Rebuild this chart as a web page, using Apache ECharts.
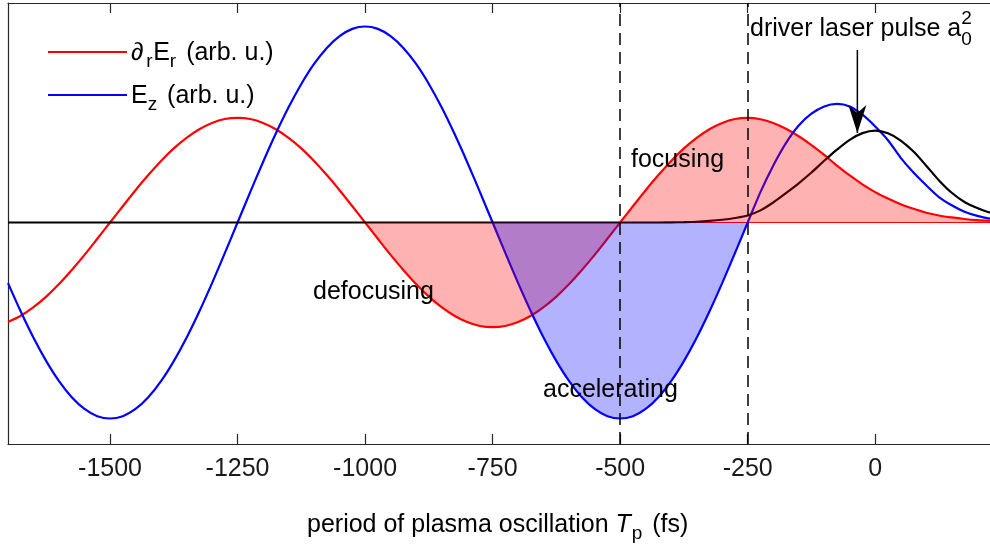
<!DOCTYPE html>
<html>
<head>
<meta charset="utf-8">
<title>Plasma wakefield phases</title>
<script src="https://cdn.jsdelivr.net/npm/echarts@6/dist/echarts.min.js"></script>
<style>
  html, body { margin: 0; padding: 0; background: #ffffff; }
  #chart { width: 990px; height: 551px; }
</style>
</head>
<body>
<div id="chart"></div>
<script>
// ---- data ---------------------------------------------------------------
// sample times along the co-moving coordinate (fs)
const timeFs = [
  -1700, -1675, -1650, -1625, -1600, -1575, -1550, -1525, -1500, -1475,
  -1450, -1425, -1400, -1375, -1350, -1325, -1300, -1275, -1250, -1225,
  -1200, -1175, -1150, -1125, -1100, -1075, -1050, -1025, -1000, -975,
  -950, -925, -900, -875, -850, -825, -800, -775, -750, -725,
  -700, -675, -650, -625, -600, -575, -550, -525, -500, -475,
  -450, -425, -400, -375, -350, -325, -300, -275, -250, -225,
  -200, -175, -150, -125, -100, -75, -50, -25, 0, 25,
  50, 75, 100, 125, 150, 175, 200, 225
];

// transverse focusing field gradient (arb. u.)
const drEr = [
  -0.508, -0.476, -0.432, -0.378, -0.314, -0.242, -0.165, -0.083, 0.000, 0.083,
  0.165, 0.242, 0.314, 0.378, 0.432, 0.476, 0.508, 0.528, 0.534, 0.528,
  0.508, 0.476, 0.432, 0.378, 0.314, 0.242, 0.165, 0.083, 0.000, -0.083,
  -0.165, -0.242, -0.314, -0.378, -0.432, -0.476, -0.508, -0.528, -0.534, -0.528,
  -0.508, -0.476, -0.432, -0.378, -0.314, -0.242, -0.165, -0.083, 0.000, 0.083,
  0.165, 0.242, 0.314, 0.378, 0.432, 0.476, 0.508, 0.528, 0.534, 0.527,
  0.508, 0.478, 0.440, 0.395, 0.345, 0.290, 0.240, 0.195, 0.155, 0.122,
  0.093, 0.070, 0.050, 0.036, 0.026, 0.018, 0.012, 0.008
];

// longitudinal (accelerating) field (arb. u.)
const Ez = [
  -0.309, -0.454, -0.588, -0.707, -0.809, -0.891, -0.951, -0.988, -1.000, -0.988,
  -0.951, -0.891, -0.809, -0.707, -0.588, -0.454, -0.309, -0.156, 0.000, 0.156,
  0.309, 0.454, 0.588, 0.707, 0.809, 0.891, 0.951, 0.988, 1.000, 0.988,
  0.951, 0.891, 0.809, 0.707, 0.588, 0.454, 0.309, 0.156, 0.000, -0.156,
  -0.309, -0.454, -0.588, -0.707, -0.809, -0.891, -0.951, -0.988, -1.000, -0.988,
  -0.951, -0.891, -0.809, -0.707, -0.588, -0.454, -0.309, -0.156, 0.000, 0.155,
  0.290, 0.405, 0.495, 0.555, 0.592, 0.605, 0.592, 0.550, 0.490, 0.420,
  0.330, 0.255, 0.190, 0.130, 0.088, 0.055, 0.034, 0.020
];

// driver laser intensity envelope a0^2 (arb. u.)
const a0sq = [
  0, 0, 0, 0, 0, 0, 0, 0, 0, 0,
  0, 0, 0, 0, 0, 0, 0, 0, 0, 0,
  0, 0, 0, 0, 0, 0, 0, 0, 0, 0,
  0, 0, 0, 0, 0, 0, 0, 0, 0, 0,
  0, 0, 0, 0, 0, 0, 0, 0, 0, 0,
  0, 0, 0.001, 0.002, 0.004, 0.008, 0.014, 0.023, 0.036, 0.062,
  0.102, 0.150, 0.200, 0.255, 0.315, 0.372, 0.422, 0.456, 0.469, 0.455,
  0.418, 0.362, 0.290, 0.215, 0.152, 0.105, 0.074, 0.050
];

const tickValues = [-1500, -1250, -1000, -750, -500, -250, 0];
const phaseBoundaries = [-500, -250];      // dashed separators (fs)
const focusFillRange = [-1000, 225];       // shaded region under dr Er
const accelFillRange = [-750, -250];       // shaded region under Ez
const arrowTail = [-35, 0.88];
const arrowTip = [-35, 0.457];

const X_MIN = -1700, X_MAX = 225, Y_MIN = -1.13, Y_MAX = 1.12;

// ---- helpers ------------------------------------------------------------
const FONT = '"Liberation Sans", Arial, Helvetica, sans-serif';
const BASE = 25;
const SUB = 19;

const pairs = (ys) => timeFs.map((t, i) => [t, ys[i]]);
const slice = (ys, range) => pairs(ys).filter(p => p[0] >= range[0] && p[0] <= range[1]);

const measureCtx = document.createElement('canvas').getContext('2d');
function fontStr(size, italic) {
  return (italic ? 'italic ' : '') + size + 'px ' + FONT;
}
function textWidth(str, size, italic) {
  measureCtx.font = fontStr(size, italic);
  return measureCtx.measureText(str).width;
}
// lays out text pieces (with sub/superscripts) on a common baseline
function richText(x, baseline, pieces, color) {
  const els = [];
  let cx = x;
  pieces.forEach(p => {
    const size = p.size || BASE;
    els.push({
      type: 'text',
      x: cx,
      y: baseline + (p.dy || 0) - 0.32 * size,
      z: 100,
      style: {
        text: p.t,
        font: fontStr(size, p.italic),
        fill: color || '#000',
        align: 'left',
        verticalAlign: 'middle'
      }
    });
    cx += textWidth(p.t, size, p.italic) + (p.gap || 0);
  });
  return els;
}

// ---- chart --------------------------------------------------------------
const chart = echarts.init(document.getElementById('chart'), null, { renderer: 'canvas' });

const arrowPath = 'path://M0,0 L9,8 L18,0 L9,28 Z';

const graphics = [].concat(
  // legend
  [{ type: 'line', z: 100, shape: { x1: 48, y1: 52, x2: 127, y2: 52 }, style: { stroke: '#ff0000', lineWidth: 2 } },
   { type: 'line', z: 100, shape: { x1: 48, y1: 95, x2: 127, y2: 95 }, style: { stroke: '#0000ff', lineWidth: 2 } }],
  richText(131, 61, [
    { t: '\u2202', italic: true, gap: 3 },
    { t: 'r', size: SUB, dy: 7, gap: 0.5 },
    { t: 'E' },
    { t: 'r', size: SUB, dy: 7, gap: 3 },
    { t: ' (arb. u.)' }
  ]),
  richText(131, 104, [
    { t: 'E' },
    { t: 'z', size: SUB, dy: 7, gap: 3 },
    { t: ' (arb. u.)' }
  ]),
  // region annotations
  richText(631, 168, [{ t: 'focusing' }]),
  richText(313, 300, [{ t: 'defocusing' }]),
  richText(543, 398, [{ t: 'accelerating' }]),
  richText(750, 37, [
    { t: 'driver laser pulse a' },
    { t: '0', size: SUB, dy: 9 }
  ]),
  richText(750 + textWidth('driver laser pulse a', BASE, false), 37, [
    { t: '2', size: SUB, dy: -12 }
  ]),
  // axis title
  richText(307, 533, [
    { t: 'period of plasma oscillation ' },
    { t: 'T', italic: true, gap: 1 },
    { t: 'p', size: SUB, dy: 7, gap: 3 },
    { t: ' (fs)' }
  ])
);

const option = {
  animation: false,
  backgroundColor: '#ffffff',
  grid: { left: 8, right: 0, top: 3, bottom: 107, containLabel: false },
  xAxis: [
    {
      type: 'value', position: 'bottom', min: X_MIN, max: X_MAX,
      axisLine: { show: true, onZero: false, lineStyle: { color: '#262626', width: 1.2 } },
      axisTick: { show: true, inside: true, length: 10, customValues: tickValues, lineStyle: { color: '#262626', width: 1.2 } },
      axisLabel: {
        show: true, customValues: tickValues, margin: 13,
        color: '#1a1a1a', fontSize: BASE, fontFamily: FONT,
        formatter: v => String(v)
      },
      splitLine: { show: false }
    },
    {
      type: 'value', position: 'top', min: X_MIN, max: X_MAX,
      axisLine: { show: true, onZero: false, lineStyle: { color: '#262626', width: 1.2 } },
      axisTick: { show: true, inside: true, length: 10, customValues: tickValues, lineStyle: { color: '#262626', width: 1.2 } },
      axisLabel: { show: false },
      splitLine: { show: false }
    }
  ],
  yAxis: {
    type: 'value', min: Y_MIN, max: Y_MAX,
    axisLine: { show: true, onZero: false, lineStyle: { color: '#262626', width: 1.2 } },
    axisTick: { show: false },
    axisLabel: { show: false },
    splitLine: { show: false }
  },
  series: [
    {
      name: 'baseline', type: 'line', z: 1, silent: true, showSymbol: false,
      data: [[phaseBoundaries[0], 0], [X_MAX, 0]],
      lineStyle: { color: '#ff0000', width: 1 }
    },
    {
      name: 'drEr', type: 'line', z: 2, silent: true, showSymbol: false, smooth: 0.3,
      data: pairs(drEr), lineStyle: { color: '#ff0000', width: 2.2 }
    },
    {
      name: 'Ez', type: 'line', z: 2, silent: true, showSymbol: false, smooth: 0.3,
      data: pairs(Ez), lineStyle: { color: '#0000ff', width: 2.2 }
    },
    {
      name: 'a0sq', type: 'line', z: 2, silent: true, showSymbol: false, smooth: 0.3,
      data: pairs(a0sq), lineStyle: { color: '#000000', width: 2.2 }
    },
    {
      name: 'focusFill', type: 'line', z: 3, silent: true, showSymbol: false, smooth: 0.3,
      data: slice(drEr, focusFillRange),
      lineStyle: { width: 0, opacity: 0 },
      areaStyle: { color: 'rgba(255,0,0,0.3)', opacity: 1, origin: 'auto' }
    },
    {
      name: 'accelFill', type: 'line', z: 4, silent: true, showSymbol: false, smooth: 0.3,
      data: slice(Ez, accelFillRange),
      lineStyle: { width: 0, opacity: 0 },
      areaStyle: { color: 'rgba(0,0,255,0.3)', opacity: 1, origin: 'auto' }
    },
    {
      name: 'boundaries', type: 'line', z: 5, silent: true, data: [],
      markLine: {
        silent: true, symbol: ['none', 'none'], animation: false,
        label: { show: false },
        lineStyle: { color: '#000000', width: 1.5, type: [12, 7] },
        data: phaseBoundaries.map(v => ({ xAxis: v }))
      }
    },
    {
      name: 'pulseArrow', type: 'line', z: 6, silent: true,
      data: [
        { value: arrowTail, symbol: 'none' },
        { value: arrowTip, symbol: arrowPath, symbolSize: [18, 28], symbolOffset: [0, -14], symbolKeepAspect: false }
      ],
      showSymbol: true, showAllSymbol: true,
      itemStyle: { color: '#000000' },
      lineStyle: { color: '#000000', width: 1.5 }
    }
  ],
  graphic: graphics
};

chart.setOption(option);
</script>
</body>
</html>
